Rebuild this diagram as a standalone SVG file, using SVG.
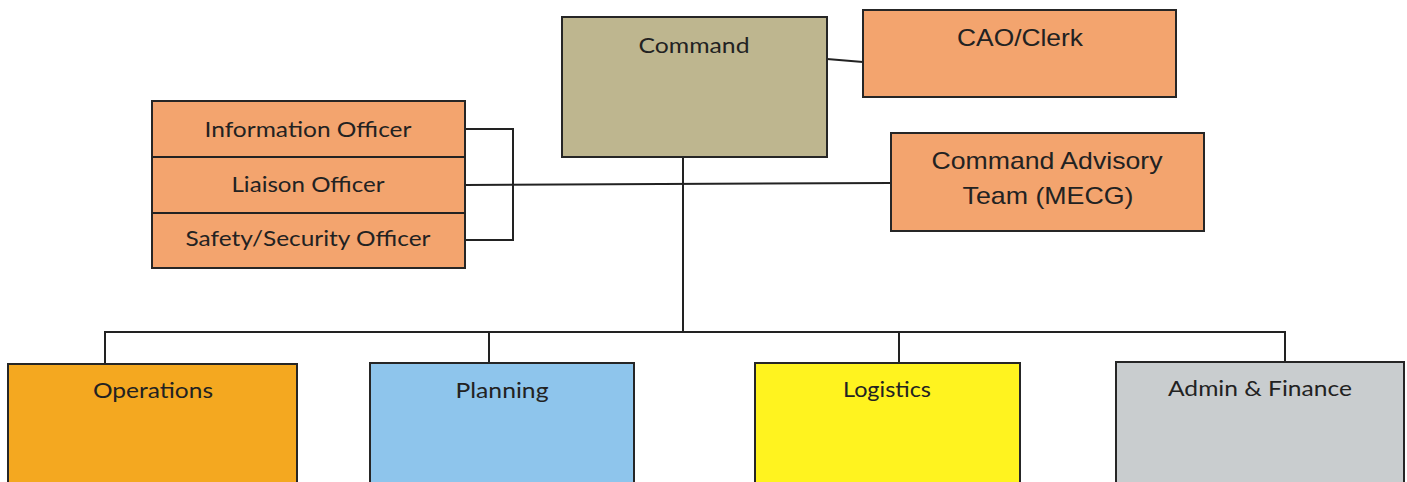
<svg xmlns="http://www.w3.org/2000/svg" width="1407" height="482" viewBox="0 0 1407 482">
<style>
.box{stroke:#262626;stroke-width:2}
.org{fill:#F3A46E}
.c{font-family:Lato,"Liberation Sans",sans-serif;font-size:22px;fill:#222;text-anchor:middle}
.a{font-family:"Liberation Sans",Arial,sans-serif;font-size:24px;fill:#222;text-anchor:middle}
.ln{stroke:#222;stroke-width:2;fill:none}
</style>
<rect width="1407" height="482" fill="#ffffff"/>
<g id="connectors">
<line class="ln" x1="827" y1="59" x2="863" y2="62"/>
<polyline class="ln" points="465,129 513,129 513,240 465,240"/>
<line class="ln" x1="465" y1="185" x2="891" y2="183"/>
<line class="ln" x1="683" y1="157" x2="683" y2="332"/>
<line class="ln" x1="104" y1="332" x2="1286" y2="332"/>
<line class="ln" x1="105" y1="331" x2="105" y2="364"/>
<line class="ln" x1="489" y1="331" x2="489" y2="363"/>
<line class="ln" x1="899" y1="331" x2="899" y2="363"/>
<line class="ln" x1="1285" y1="331" x2="1285" y2="362"/>
</g>
<g id="command">
<rect class="box" x="562" y="17" width="265" height="140" fill="#BEB68F"/>
<text class="c" x="694" y="53" textLength="111" lengthAdjust="spacingAndGlyphs">Command</text>
</g>
<g id="cao-clerk">
<rect class="box org" x="863" y="10" width="313" height="87"/>
<text class="a" x="1020" y="46" textLength="126" lengthAdjust="spacingAndGlyphs">CAO/Clerk</text>
</g>
<g id="advisory">
<rect class="box org" x="891" y="133" width="313" height="98"/>
<text class="a" x="1047" y="169" textLength="231" lengthAdjust="spacingAndGlyphs">Command Advisory</text>
<text class="a" x="1048" y="204" textLength="171" lengthAdjust="spacingAndGlyphs">Team (MECG)</text>
</g>
<g id="officers">
<rect class="box org" x="152" y="101" width="313" height="167"/>
<line class="ln" x1="152" y1="157" x2="465" y2="157"/>
<line class="ln" x1="152" y1="213" x2="465" y2="213"/>
<text class="c" x="308" y="137" textLength="207" lengthAdjust="spacingAndGlyphs">Information Officer</text>
<text class="c" x="308" y="192" textLength="153" lengthAdjust="spacingAndGlyphs">Liaison Officer</text>
<text class="c" x="308" y="246" textLength="245" lengthAdjust="spacingAndGlyphs">Safety/Security Officer</text>
</g>
<g id="operations">
<rect class="box" x="8" y="364" width="289" height="130" fill="#F4A820"/>
<text class="c" x="153" y="398" textLength="120" lengthAdjust="spacingAndGlyphs">Operations</text>
</g>
<g id="planning">
<rect class="box" x="370" y="363" width="264" height="130" fill="#8EC5EC"/>
<text class="c" x="502" y="398" textLength="93" lengthAdjust="spacingAndGlyphs">Planning</text>
</g>
<g id="logistics">
<rect class="box" x="755" y="363" width="265" height="130" fill="#FFF31F"/>
<text class="c" x="887" y="397" textLength="88" lengthAdjust="spacingAndGlyphs">Logistics</text>
</g>
<g id="admin-finance">
<rect class="box" x="1116" y="362" width="288" height="130" fill="#C9CDCF"/>
<text class="c" x="1260" y="396" textLength="184" lengthAdjust="spacingAndGlyphs">Admin &amp; Finance</text>
</g>
</svg>
